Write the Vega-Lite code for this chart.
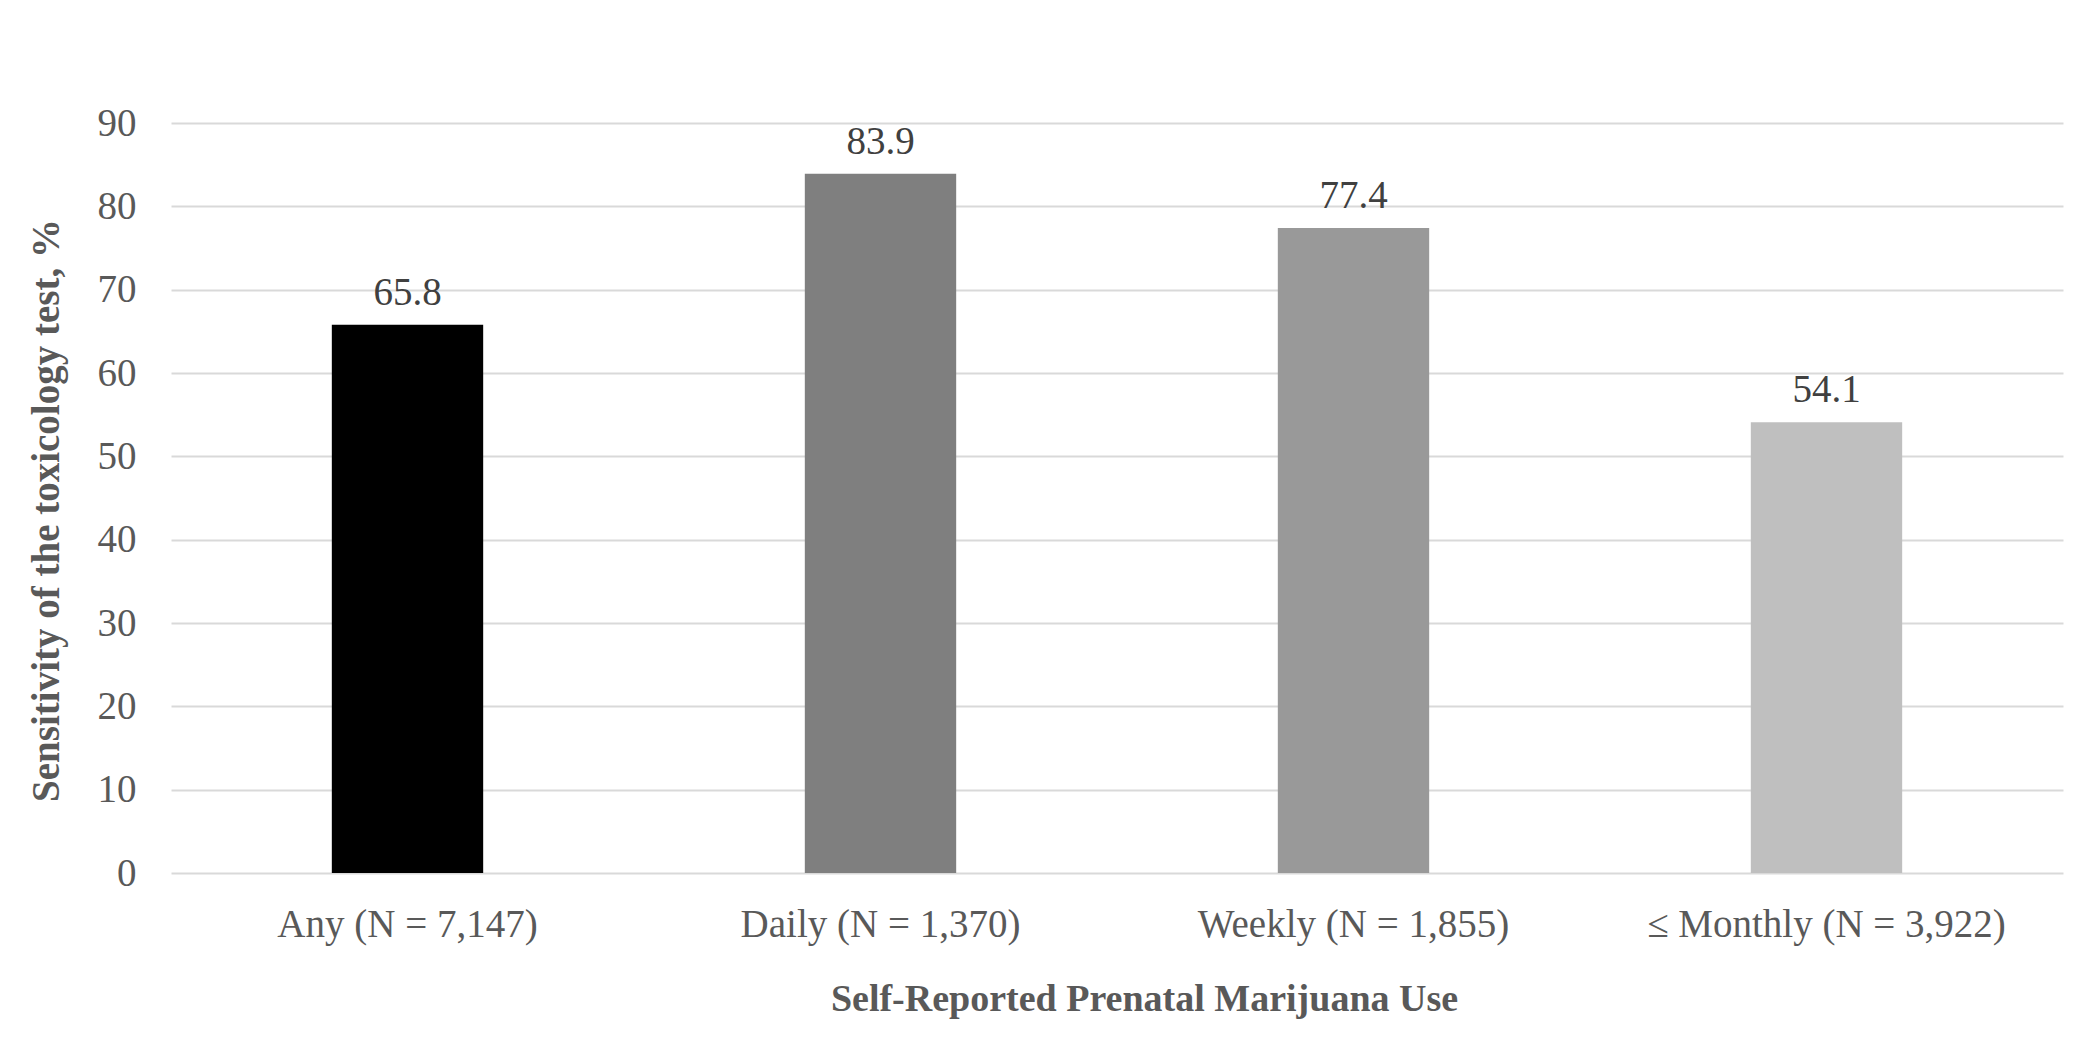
{
  "$schema": "https://vega.github.io/schema/vega-lite/v6.json",
  "width": 1892,
  "height": 750,
  "autosize": "none",
  "padding": {"left": 171, "top": 123, "right": 37, "bottom": 167},
  "background": "white",
  "config": {
    "view": {"stroke": null},
    "font": "Liberation Serif"
  },
  "data": {
    "values": [
      {"group": "Any (N = 7,147)", "value": 65.8},
      {"group": "Daily (N = 1,370)", "value": 83.9},
      {"group": "Weekly (N = 1,855)", "value": 77.4},
      {"group": "≤ Monthly (N = 3,922)", "value": 54.1}
    ]
  },
  "encoding": {
    "x": {
      "field": "group",
      "type": "nominal",
      "sort": null,
      "scale": {"paddingInner": 0.68, "paddingOuter": 0.34},
      "axis": {
        "title": "Self-Reported Prenatal Marijuana Use",
        "labelAngle": 0,
        "labelLimit": 0,
        "labelFont": "Liberation Serif",
        "labelFontSize": 39,
        "labelColor": "#595959",
        "labelPadding": 32,
        "titleFont": "Liberation Serif",
        "titleFontSize": 38,
        "titleFontWeight": "bold",
        "titleColor": "#595959",
        "titlePadding": 36,
        "titleX": 973,
        "domain": false,
        "ticks": false
      }
    },
    "y": {
      "field": "value",
      "type": "quantitative",
      "scale": {"domain": [0, 90]},
      "axis": {
        "title": "Sensitivity of the toxicology test, %",
        "values": [0, 10, 20, 30, 40, 50, 60, 70, 80, 90],
        "labelFont": "Liberation Serif",
        "labelFontSize": 39,
        "labelColor": "#595959",
        "labelPadding": 35,
        "titleFont": "Liberation Serif",
        "titleFontSize": 39,
        "titleFontWeight": "bold",
        "titleColor": "#595959",
        "titlePadding": 31,
        "titleY": 387,
        "domain": false,
        "ticks": false,
        "grid": true,
        "gridColor": "#d9d9d9",
        "gridWidth": 2
      }
    }
  },
  "layer": [
    {
      "mark": {"type": "bar"},
      "encoding": {
        "color": {
          "field": "group",
          "type": "nominal",
          "sort": null,
          "legend": null,
          "scale": {
            "domain": ["Any (N = 7,147)", "Daily (N = 1,370)", "Weekly (N = 1,855)", "≤ Monthly (N = 3,922)"],
            "range": ["#000000", "#7f7f7f", "#999999", "#bfbfbf"]
          }
        }
      }
    },
    {
      "mark": {"type": "text", "baseline": "alphabetic", "dy": -20, "fontSize": 39, "font": "Liberation Serif", "color": "#404040"},
      "encoding": {
        "text": {"field": "value", "type": "quantitative", "format": ".1f"}
      }
    }
  ]
}
